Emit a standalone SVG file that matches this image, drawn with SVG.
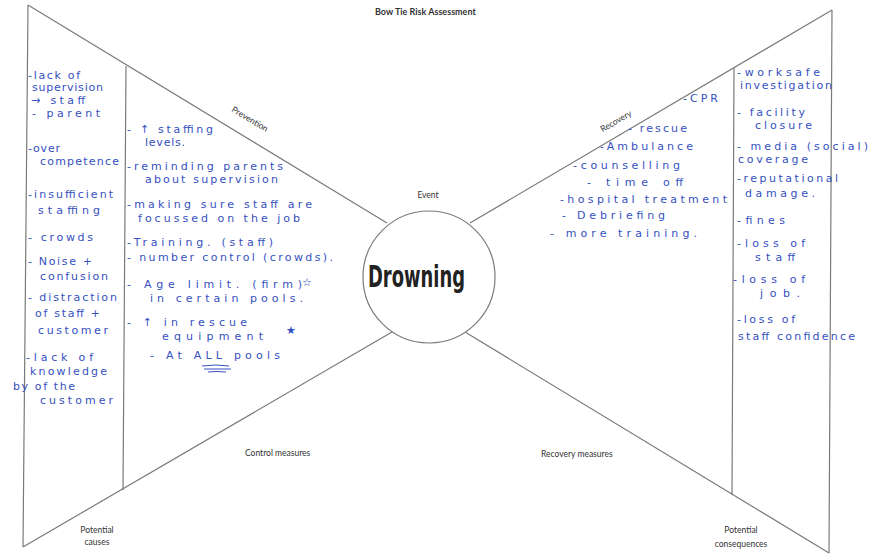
<svg xmlns="http://www.w3.org/2000/svg" width="888" height="556" viewBox="0 0 888 556">
<style>
.ln{stroke:#7a7a7a;stroke-width:1.2;fill:none}
.lbl{font-family:Lato,"Open Sans",sans-serif;font-size:8.5px;fill:#333}
.ttl{font-family:Lato,"Open Sans",sans-serif;font-size:9px;font-weight:bold;fill:#333}
.hw{font-family:"DejaVu Sans",sans-serif;font-size:11px;fill:#3550c0}
.ul{stroke:#3550c0;stroke-width:1;fill:none}
</style>
<rect width="888" height="556" fill="#fff"/>
<text class="ttl" x="375" y="15">Bow Tie Risk Assessment</text>

<g id="connectors">
<line class="ln" x1="28" y1="5" x2="23" y2="547"/>
<line class="ln" x1="28" y1="5" x2="387" y2="223"/>
<line class="ln" x1="126" y1="66" x2="123" y2="490"/>
<line class="ln" x1="23" y1="547" x2="392" y2="332"/>
<line class="ln" x1="832" y1="10" x2="829" y2="553"/>
<line class="ln" x1="832" y1="10" x2="470" y2="223"/>
<line class="ln" x1="734" y1="68" x2="732" y2="495"/>
<line class="ln" x1="465" y1="332" x2="829" y2="553"/>
</g>

<g id="causes">
<text class="lbl" x="97" y="533" text-anchor="middle">Potential</text>
<text class="lbl" x="97" y="545" text-anchor="middle">causes</text>
<text class="hw" x="28" y="79" textLength="52">-lack of</text>
<text class="hw" x="32" y="91" textLength="71">supervision</text>
<text class="hw" x="31" y="104" textLength="54">→ staff</text>
<text class="hw" x="32" y="117" textLength="68">- parent</text>
<text class="hw" x="28" y="152" textLength="32">-over</text>
<text class="hw" x="40" y="165" textLength="79">competence</text>
<text class="hw" x="28" y="198" textLength="85">-insufficient</text>
<text class="hw" x="38" y="214" textLength="62">staffing</text>
<text class="hw" x="28" y="241" textLength="65">- crowds</text>
<text class="hw" x="28" y="265" textLength="64">- Noise +</text>
<text class="hw" x="40" y="280" textLength="68">confusion</text>
<text class="hw" x="28" y="301" textLength="89">- distraction</text>
<text class="hw" x="35" y="317" textLength="65">of staff +</text>
<text class="hw" x="38" y="334" textLength="70">customer</text>
<text class="hw" x="26" y="361" textLength="67">-lack of</text>
<text class="hw" x="30" y="375" textLength="77">knowledge</text>
<text class="hw" x="13" y="390" textLength="62">by of the</text>
<text class="hw" x="40" y="404" textLength="73">customer</text>
</g>

<g id="prevention">
<text class="lbl" x="250" y="122" text-anchor="middle" transform="rotate(31 250 119)">Prevention</text>
<text class="lbl" x="245" y="456">Control measures</text>
<text class="hw" x="127" y="133" textLength="86">- ↑ staffing</text>
<text class="hw" x="145" y="146" textLength="40">levels.</text>
<text class="hw" x="127" y="170" textLength="156">-reminding parents</text>
<text class="hw" x="145" y="183" textLength="133">about supervision</text>
<text class="hw" x="127" y="208" textLength="185">-making sure staff are</text>
<text class="hw" x="138" y="222" textLength="162">focussed on the job</text>
<text class="hw" x="127" y="246" textLength="146">-Training. (staff)</text>
<text class="hw" x="127" y="261" textLength="206">- number control (crowds).</text>
<text class="hw" x="127" y="288" textLength="175">- Age limit. (firm)</text>
<text class="hw" x="302" y="286">☆</text>
<text class="hw" x="150" y="302" textLength="153">in certain pools.</text>
<text class="hw" x="127" y="326" textLength="120">- ↑ in rescue</text>
<text class="hw" x="162" y="340" textLength="101">equipment</text>
<text class="hw" x="286" y="334">★</text>
<text class="hw" x="150" y="359" textLength="130">- At ALL pools</text>
<path class="ul" d="M202 366 Q215 364 229 366 M204 369 L231 369 M208 372 Q217 371 226 372"/>
</g>

<g id="event">
<text class="lbl" x="428" y="198" text-anchor="middle">Event</text>
<circle cx="429" cy="277" r="66" fill="#fff" stroke="#7a7a7a" stroke-width="1.2"/>
<text x="368" y="287" font-family="'DejaVu Sans',sans-serif" font-size="30" font-weight="bold" fill="#222" textLength="97" lengthAdjust="spacingAndGlyphs">Drowning</text>
</g>

<g id="recovery">
<text class="lbl" x="616" y="124" text-anchor="middle" transform="rotate(-30 616 121)">Recovery</text>
<text class="lbl" x="541" y="457">Recovery measures</text>
<text class="hw" x="683" y="102" textLength="35">-CPR</text>
<text class="hw" x="628" y="132" textLength="59">- rescue</text>
<text class="hw" x="600" y="150" textLength="93">-Ambulance</text>
<text class="hw" x="573" y="169" textLength="107">-counselling</text>
<text class="hw" x="587" y="186" textLength="96">- time off</text>
<text class="hw" x="560" y="203" textLength="167">-hospital treatment</text>
<text class="hw" x="562" y="219" textLength="103">- Debriefing</text>
<text class="hw" x="550" y="237" textLength="147">- more training.</text>
</g>

<g id="consequences">
<text class="lbl" x="741" y="533" text-anchor="middle">Potential</text>
<text class="lbl" x="741" y="547" text-anchor="middle">consequences</text>
<text class="hw" x="737" y="76" textLength="83">-worksafe</text>
<text class="hw" x="740" y="89" textLength="92">investigation</text>
<text class="hw" x="737" y="116" textLength="68">- facility</text>
<text class="hw" x="755" y="129" textLength="57">closure</text>
<text class="hw" x="737" y="150" textLength="131">- media (social)</text>
<text class="hw" x="738" y="163" textLength="70">coverage</text>
<text class="hw" x="737" y="182" textLength="101">-reputational</text>
<text class="hw" x="745" y="197" textLength="70">damage.</text>
<text class="hw" x="737" y="224" textLength="48">-fines</text>
<text class="hw" x="737" y="247" textLength="68">-loss of</text>
<text class="hw" x="755" y="261" textLength="40">staff</text>
<text class="hw" x="733" y="283" textLength="72">-loss of</text>
<text class="hw" x="760" y="297" textLength="40">job.</text>
<text class="hw" x="737" y="323" textLength="58">-loss of</text>
<text class="hw" x="738" y="340" textLength="117">staff confidence</text>
</g>
</svg>
